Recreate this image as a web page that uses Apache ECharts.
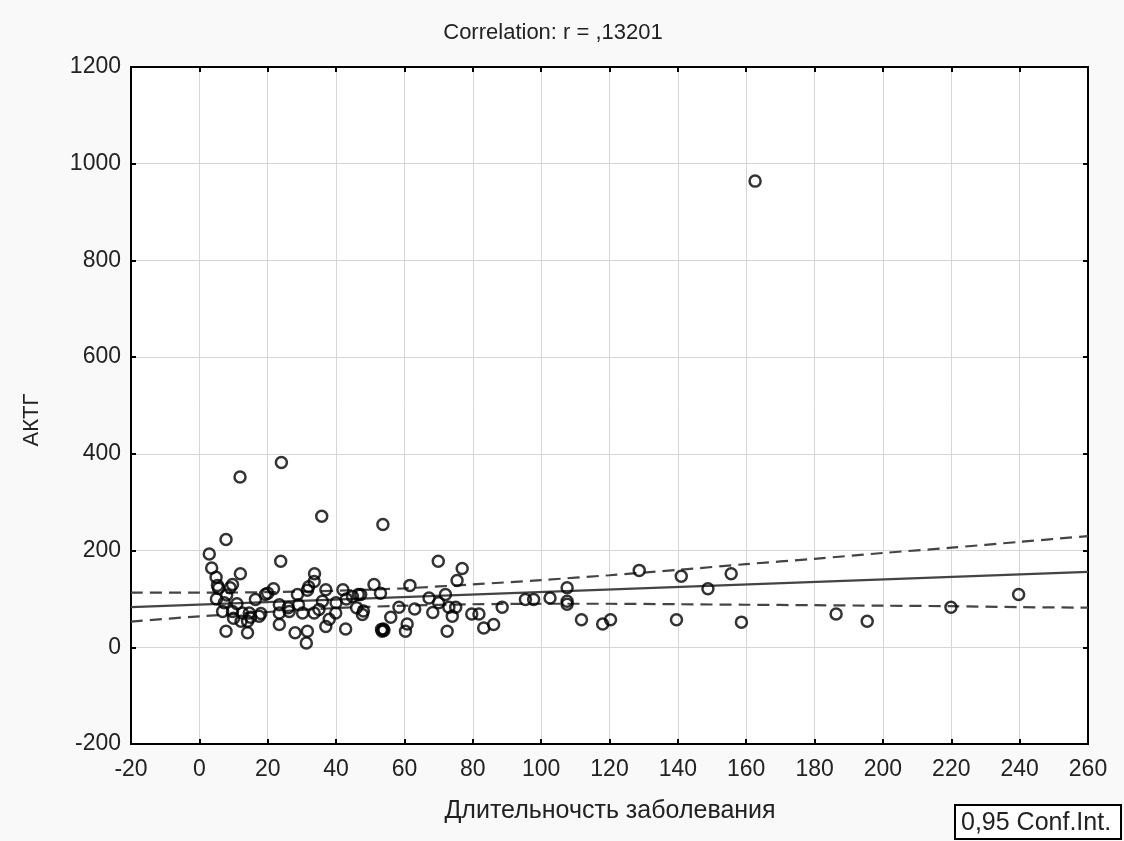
<!DOCTYPE html>
<html>
<head>
<meta charset="utf-8">
<script src="https://cdn.jsdelivr.net/npm/echarts@6/dist/echarts.min.js"></script>
<style>
  html, body { margin: 0; padding: 0; background: #f9f9f9; }
  #chart { width: 1124px; height: 841px; }
</style>
</head>
<body>
<div id="chart"></div>
<script>
// ---- data (x = duration, y = ACTH) ----
const pointsEarly = [
  [11.9,352],[24,382],[35.8,271],[7.8,223],[2.9,193],[23.8,178],[3.6,164],[12,152],[33.7,152],
  [4.9,145],[5.3,128],[5.6,122],[9.7,130],[9,123],[33.6,136],[21.7,121],[31.6,118],[37,119],
  [42,119],[19.3,109],[16.4,99],[28.7,109],[36,95],[44.8,105],[7.3,92],[6.8,74],[9.7,74],
  [12.6,71],[14.6,71],[17.5,64],[23.4,88],[23.4,71],[26.3,74],[30.2,71],[33.6,71],[39.9,71],
  [12.2,54],[14.1,54],[23.4,47],[37,43],[47.7,68],[7.8,33],[14.1,30],[28,30],[31.6,33],
  [42.8,38],[31.3,9],[46.5,109],[5,100],[8,108],[11,90],[15,62],[26,82],[29,88],[32,125],
  [35,78],[38,58],[40,92],[43,100],[46,82],[48,75],[20,112],[18,70],[10,60]
];
const pointsMiddle = [
  [53.7,254],[69.9,178],[76.9,163],[75.4,138],[51.1,130],[61.6,128],[53,112],[72,109],
  [67.2,102],[47.2,109],[70,92],[73,83],[75,83],[58.4,83],[63,79],[68.3,72],[74,64],[88.6,83],
  [79.7,69],[81.8,69],[95.4,99],[97.8,99],[56,62],[60.8,48],[60.3,33],[53.3,37],[53.5,33],
  [53.8,38],[54,35],[72.5,33],[83.2,40],[86.1,47]
];
const pointsLate = [
  [102.6,102],[107.6,123],[107.6,95],[107.6,89],[111.8,57],[118,48],[120.3,57],[128.7,159],
  [139.6,57],[141,147],[148.8,121],[155.6,152],[158.6,52],[186.3,69],[195.4,54],[219.9,83],
  [239.7,109],[162.6,964]
];
// regression line and 0.95 confidence band
const fitX = [-20, 260];
const fitY = [83, 156];
const bandX = [-20, 0, 20, 40, 60, 80, 100, 120, 140, 160, 180, 200, 220, 240, 260];
const upperY = [113, 113, 114, 117, 122, 130, 139, 149, 160, 172, 183, 195, 206, 218, 230];
const lowerY = [53, 64, 73, 81, 86, 89, 90, 90, 89, 88, 87, 86, 85, 83, 82];

const titleText = 'Correlation: r = ,13201';
const xName = 'Длительночсть заболевания';
const yName = 'АКТГ';
const legendText = '0,95 Conf.Int.';

const FONT = '"Liberation Sans", Arial, sans-serif';
const chart = echarts.init(document.getElementById('chart'));

const zip = (xs, ys) => xs.map((x, i) => [x, ys[i]]);
const tickCommon = { show: true, inside: true, length: 5, lineStyle: { color: '#000', width: 2 } };
const lineCommon = { show: true, onZero: false, lineStyle: { color: '#000', width: 2 } };
const plain = v => String(v);

chart.setOption({
  backgroundColor: '#f9f9f9',
  animation: false,
  grid: { left: 131, right: 36, top: 67, bottom: 97, show: true, backgroundColor: '#ffffff',
          borderColor: '#000', borderWidth: 2 },
  graphic: [
    { type: 'text', x: 553, y: 33, style: { text: titleText, font: '22px ' + FONT, fill: '#222',
      align: 'center', verticalAlign: 'middle' } },
    { type: 'text', x: 610, y: 811, style: { text: xName, font: '25px ' + FONT, fill: '#222',
      align: 'center', verticalAlign: 'middle' } },
    { type: 'text', x: 32, y: 420, rotation: Math.PI / 2, style: { text: yName, font: '22px ' + FONT,
      fill: '#222', align: 'center', verticalAlign: 'middle' } },
    { type: 'rect', shape: { x: 955, y: 805, width: 166, height: 34 },
      style: { fill: '#fff', stroke: '#000', lineWidth: 2 } },
    { type: 'text', x: 961, y: 823, style: { text: legendText, font: '25px ' + FONT, fill: '#222',
      align: 'left', verticalAlign: 'middle' } }
  ],
  xAxis: [
    { type: 'value', min: -20, max: 260, interval: 20, position: 'bottom',
      axisLine: lineCommon, axisTick: tickCommon,
      axisLabel: { fontSize: 23, fontFamily: FONT, color: '#222', margin: 14, formatter: plain },
      splitLine: { show: true, lineStyle: { color: '#d6d6d6', width: 1 } } },
    { type: 'value', min: -20, max: 260, interval: 20, position: 'top',
      axisLine: lineCommon, axisTick: tickCommon, axisLabel: { show: false }, splitLine: { show: false } }
  ],
  yAxis: [
    { type: 'value', min: -200, max: 1200, interval: 200, position: 'left',
      axisLine: lineCommon, axisTick: tickCommon,
      axisLabel: { fontSize: 23, fontFamily: FONT, color: '#222', margin: 10, formatter: plain },
      splitLine: { show: true, lineStyle: { color: '#d6d6d6', width: 1 } } },
    { type: 'value', min: -200, max: 1200, interval: 200, position: 'right',
      axisLine: lineCommon, axisTick: tickCommon, axisLabel: { show: false }, splitLine: { show: false } }
  ],
  series: [
    { type: 'line', data: zip(bandX, upperY), smooth: 0.3, showSymbol: false, symbol: 'none',
      lineStyle: { color: '#444', width: 2.2, type: [12, 7] }, z: 3 },
    { type: 'line', data: zip(bandX, lowerY), smooth: 0.3, showSymbol: false, symbol: 'none',
      lineStyle: { color: '#444', width: 2.2, type: [12, 7] }, z: 3 },
    { type: 'line', data: zip(fitX, fitY), showSymbol: false, symbol: 'none',
      lineStyle: { color: '#444', width: 2.2 }, z: 3 },
    { type: 'scatter', data: pointsEarly.concat(pointsMiddle, pointsLate), symbol: 'circle',
      symbolSize: 11, itemStyle: { color: 'rgba(255,255,255,0)', borderColor: '#000', borderWidth: 2.5 }, z: 5 }
  ]
});
</script>
</body>
</html>
